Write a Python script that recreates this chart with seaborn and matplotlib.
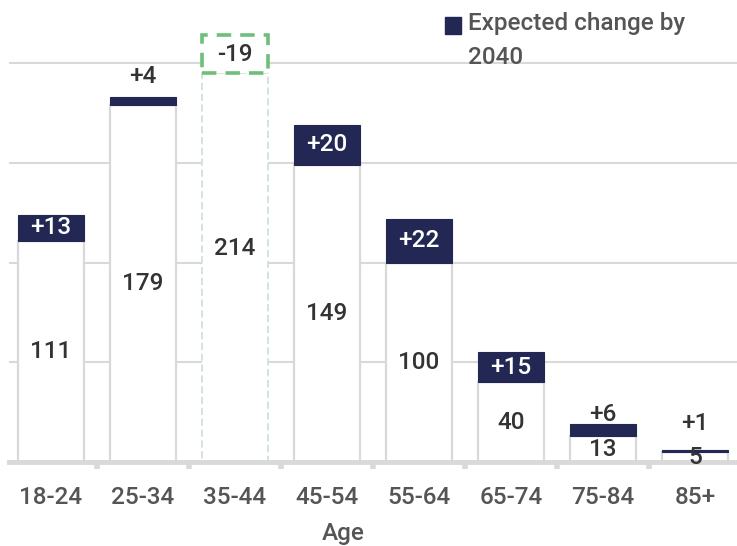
import numpy as np
import pandas as pd
import matplotlib
matplotlib.use("Agg")
import matplotlib.pyplot as plt
from matplotlib.patches import Patch
import seaborn as sns

# ---- data ----
ages = ["18-24", "25-34", "35-44", "45-54", "55-64", "65-74", "75-84", "85+"]
current = [111, 179, 214, 149, 100, 40, 13, 5]
change_2040 = [13, 4, -19, 20, 22, 15, 6, 1]
legend_label = "Expected change by\n2040"
x_title = "Age"

# ---- style ----
NAVY = "#222753"
GRID = "#d9d9d9"
GREEN = "#6dbf79"
LIGHT_GREEN = "#cfe3d3"
TXT = "#333333"
TICK_TXT = "#555555"
FS = 17.5
WEIGHT = "medium"

sns.set_theme(style="white")
plt.rcParams["font.family"] = ["Roboto", "DejaVu Sans"]
plt.rcParams["font.weight"] = WEIGHT
plt.rcParams["axes.labelweight"] = WEIGHT

lower = [min(c, c + d) for c, d in zip(current, change_2040)]
upper = [abs(d) for d in change_2040]
df = pd.DataFrame({"age": ages, "lower": lower, "upper": upper})

fig = plt.figure(figsize=(7.37, 5.46), dpi=100)
ax = fig.add_axes([9 / 737, 1 - 462 / 546, 728 / 737, 462 / 546])

sns.barplot(data=df, x="age", y="lower", color="white", width=0.72,
            saturation=1, ax=ax, zorder=2)
sns.barplot(data=df, x="age", y="upper", bottom=df["lower"].to_numpy(),
            color=NAVY, width=0.72, saturation=1, ax=ax, zorder=3)

patches = ax.patches
n = len(ages)
for i in range(n):
    lo = patches[i]
    up = patches[n + i]
    lo.set_facecolor("white")
    if change_2040[i] < 0:
        lo.set_edgecolor(LIGHT_GREEN)
        lo.set_linestyle((0, (4, 2)))
        lo.set_linewidth(1.3)
        up.set_facecolor("white")
        up.set_edgecolor(GREEN)
        up.set_linestyle((0, (4, 2.5)))
        up.set_linewidth(2.6)
        up.set_zorder(4)
    else:
        lo.set_edgecolor(GRID)
        lo.set_linewidth(1.6)
        up.set_facecolor(NAVY)
        up.set_edgecolor(NAVY)
        up.set_linewidth(0.8)

# value labels
small_offsets = {1: 20, 6: 10, 7: 27}  # pixels above bar top for small changes
for i, (c, d) in enumerate(zip(current, change_2040)):
    ax.text(i, c / 2, f"{c}", ha="center", va="center", fontsize=FS, color=TXT,
            fontweight=WEIGHT, zorder=6)
    lbl = f"{d:+d}"
    top = max(c, c + d)
    if abs(d) >= 10:
        yc = min(c, c + d) + abs(d) / 2
        ax.text(i, yc, lbl, ha="center", va="center", fontsize=FS, fontweight=WEIGHT,
                color="white" if d > 0 else TXT, zorder=6)
    else:
        ax.annotate(lbl, (i, top), xytext=(0, small_offsets.get(i, 12) * 0.72),
                    textcoords="offset points", ha="center", va="center",
                    fontsize=FS, fontweight=WEIGHT, color=TXT, zorder=6)

ax.set_xlim(-0.457, 7.457)
ax.set_ylim(0, 231.6)
ax.set_yticks([50, 100, 150, 200])
ax.tick_params(axis="y", length=0, labelleft=False)
ax.grid(axis="y", color=GRID, linewidth=1.5)
ax.set_axisbelow(True)
ax.set_ylabel("")

ax.set_xticks(range(n))
ax.set_xticklabels(ages, fontweight=WEIGHT)
ax.set_xticks(np.arange(0.5, n - 0.5, 1), minor=True)
ax.tick_params(axis="x", which="major", length=0, pad=17, labelsize=FS, labelcolor=TICK_TXT)
ax.tick_params(axis="x", which="minor", length=5, width=4, color=GRID, direction="out", bottom=True)
ax.set_xlabel(x_title, fontsize=FS, color=TICK_TXT, fontweight=WEIGHT)
ax.xaxis.set_label_coords((343 - 9) / 728, -0.13)

for s in ["top", "right", "left"]:
    ax.spines[s].set_visible(False)
ax.spines["bottom"].set_color(GRID)
ax.spines["bottom"].set_linewidth(3.5)

leg = ax.legend(handles=[Patch(facecolor=NAVY, edgecolor=NAVY)], labels=[legend_label],
                loc="upper left", bbox_to_anchor=(445 / 737, 1 - 12 / 546),
                bbox_transform=fig.transFigure, frameon=False,
                prop={"size": FS, "weight": WEIGHT},
                handlelength=0.65, handleheight=0.65, handletextpad=0.3,
                borderpad=0, borderaxespad=0, labelcolor=TICK_TXT)
for t in leg.get_texts():
    t.set_linespacing(1.6)
h = leg.legend_handles[0]
h.set_y(h.get_y() + 11)

fig.savefig("out.png", dpi=100)
